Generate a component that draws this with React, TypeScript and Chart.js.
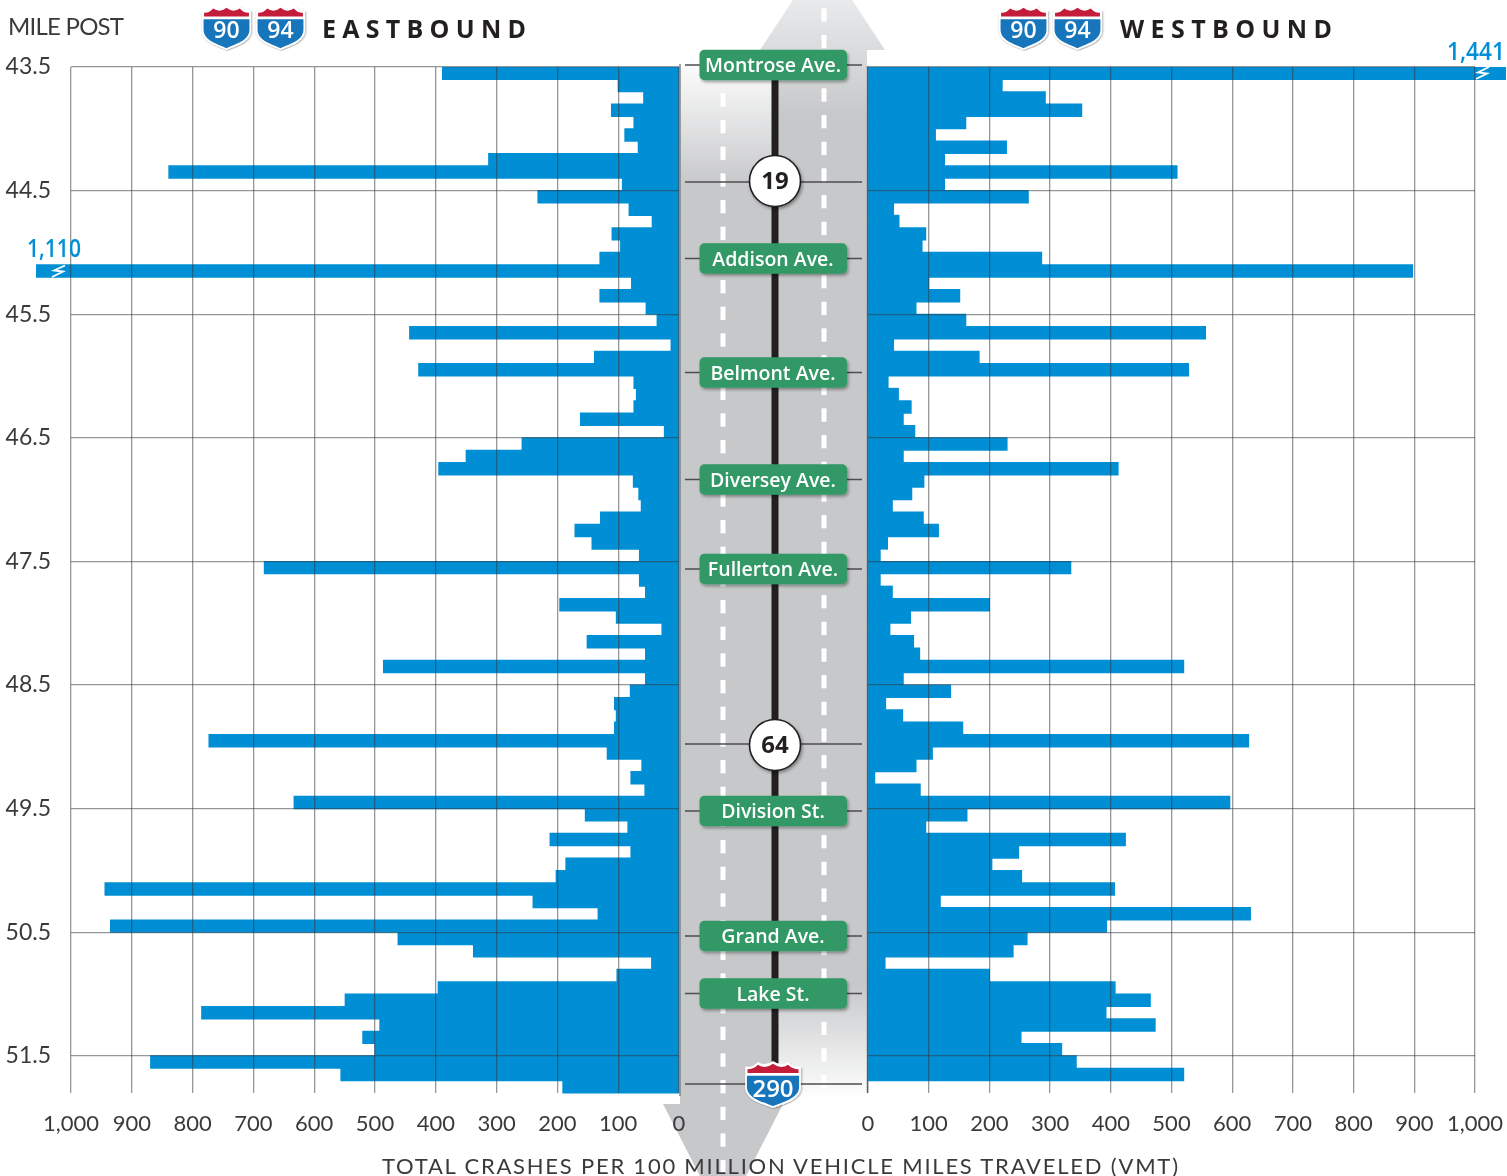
import React, { useEffect, useRef } from "react";
import { Chart, registerables } from "chart.js";

Chart.register(...registerables);

const eastbound = [
  389, 100, 58, 111, 74, 89, 67, 313, 839, 93,
  232, 82, 44, 110, 96, 130, 1110, 78, 130, 54,
  36, 443, 13, 139, 428, 74, 70, 74, 162, 24,
  258, 350, 395, 75, 66, 62, 129, 171, 143, 65,
  682, 65, 55, 196, 103, 28, 151, 55, 486, 55,
  80, 106, 103, 106, 773, 118, 61, 79, 56, 633,
  154, 84, 212, 79, 186, 202, 944, 240, 133, 935,
  462, 338, 45, 102, 396, 549, 785, 492, 520, 500,
  869, 556, 191,
];
const westbound = [
  1441, 221, 292, 352, 161, 111, 228, 126, 509, 126,
  264, 42, 51, 95, 89, 286, 897, 100, 151, 79,
  161, 556, 42, 183, 528, 33, 50, 71, 58, 77,
  229, 58, 412, 92, 72, 40, 91, 116, 32, 20,
  334, 20, 40, 200, 70, 36, 75, 85, 520, 58,
  136, 29, 57, 156, 627, 106, 79, 11, 86, 596,
  163, 95, 424, 248, 204, 253, 406, 119, 630, 393,
  262, 239, 28, 200, 407, 465, 392, 473, 252, 319,
  343, 520,
];
const rowMiles = [
  43.55, 43.65, 43.75, 43.85, 43.95, 44.05, 44.15, 44.25, 44.35, 44.45,
  44.55, 44.65, 44.75, 44.85, 44.95, 45.05, 45.15, 45.25, 45.35, 45.45,
  45.55, 45.65, 45.75, 45.85, 45.95, 46.05, 46.15, 46.25, 46.35, 46.45,
  46.55, 46.65, 46.75, 46.85, 46.95, 47.05, 47.15, 47.25, 47.35, 47.45,
  47.55, 47.65, 47.75, 47.85, 47.95, 48.05, 48.15, 48.25, 48.35, 48.45,
  48.55, 48.65, 48.75, 48.85, 48.95, 49.05, 49.15, 49.25, 49.35, 49.45,
  49.55, 49.65, 49.75, 49.85, 49.95, 50.05, 50.15, 50.25, 50.35, 50.45,
  50.55, 50.65, 50.75, 50.85, 50.95, 51.05, 51.15, 51.25, 51.35, 51.45,
  51.55, 51.65, 51.75,
];
const mileTicks = [43.5, 44.5, 45.5, 46.5, 47.5, 48.5, 49.5, 50.5, 51.5];
const crashTicks = [0, 100, 200, 300, 400, 500, 600, 700, 800, 900, 1000];

const streetSigns = [
  { name: "Montrose Ave.", y: 65 },
  { name: "Addison Ave.", y: 258.5 },
  { name: "Belmont Ave.", y: 372.5 },
  { name: "Diversey Ave.", y: 479.5 },
  { name: "Fullerton Ave.", y: 569 },
  { name: "Division St.", y: 811 },
  { name: "Grand Ave.", y: 936 },
  { name: "Lake St.", y: 993.5 },
];
const routeCircles = [
  { name: "19", y: 181, lineY: 182 },
  { name: "64", y: 745, lineY: 744 },
];

const BLUE = "#008fd5";
const GRID = "rgba(50,55,60,0.52)";
const TEXT = "#3a3a3c";
const FONT = "Lato";
const SIGN_FONT = "'Open Sans'";

function makeChart(canvas: HTMLCanvasElement, side: "east" | "west") {
  const east = side === "east";
  const values = east ? eastbound : westbound;
  return new Chart(canvas, {
    type: "bar",
    data: {
      datasets: [
        {
          data: values.map((v, i) => ({ x: v, y: rowMiles[i] })),
          backgroundColor: BLUE,
          borderWidth: 0,
          barPercentage: 1,
          categoryPercentage: 1,
          inflateAmount: 0.55,
          clip: east
            ? { left: 35, right: 0, top: 0, bottom: 1 }
            : { left: 0, right: 31, top: 0, bottom: 1 },
        } as any,
      ],
    },
    options: {
      indexAxis: "y",
      animation: false,
      responsive: false,
      events: [],
      layout: {
        padding: east
          ? { top: 67, right: 41, left: 0, bottom: 0 }
          : { top: 67, right: 32, left: 0, bottom: 0 },
      },
      plugins: { legend: { display: false }, tooltip: { enabled: false } },
      scales: {
        x: {
          type: "linear",
          reverse: east,
          min: 0,
          max: 1000,
          afterBuildTicks: (s: any) => {
            s.ticks = crashTicks.map((value) => ({ value }));
          },
          afterFit: (s: any) => {
            s.height = 83;
            s.paddingLeft = 0;
            s.paddingRight = 0;
          },
          border: { display: false },
          grid: { color: GRID, lineWidth: 1.3, drawTicks: false, z: 1 },
          ticks: {
            autoSkip: false,
            maxRotation: 0,
            padding: 18,
            color: TEXT,
            font: { family: FONT, size: 22 },
            callback: (v: any) => Number(v).toLocaleString("en-US"),
          },
        },
        y: {
          type: "linear",
          reverse: true,
          offset: false,
          min: 43.5,
          max: 51.8,
          afterBuildTicks: (s: any) => {
            s.ticks = mileTicks.map((value) => ({ value }));
          },
          afterFit: (s: any) => {
            s.width = east ? 71 : 28;
            s.paddingTop = 0;
            s.paddingBottom = 0;
          },
          border: { display: false },
          grid: { offset: false, color: GRID, lineWidth: 1.3, drawTicks: false, z: 1 },
          ticks: {
            display: east,
            padding: 20,
            labelOffset: 0,
            color: TEXT,
            font: { family: FONT, size: 23 },
            callback: (v: any) => Number(v).toFixed(1),
          },
        },
      },
    },
  } as any);
}

function Shield({ x, y, w, h, label, size, textY }: { x: number; y: number; w: number; h: number; label: string; size: number; textY: number }) {
  return (
    <g>
      <g transform={`translate(${x} ${y}) scale(${w / 100} ${h / 100})`} filter="url(#softShadow)">
        <path d="M2 14 Q15 16 24 4 Q37 14 50 2 Q63 14 76 4 Q85 16 98 14 V56 C98 84 66 92 50 100 C34 92 2 84 2 56 Z" fill="#fff" />
        <path d="M6 27 L6 19 Q16 20 24 10 Q37 20 50 8 Q63 20 76 10 Q84 20 94 19 L94 27 Z" fill="#c41e3a" />
        <path d="M5 33 H95 V56 C95 80 65 88 50 96 C35 88 5 80 5 56 Z" fill="#1775bb" />
      </g>
      <text
        x={x + w / 2}
        y={textY}
        textAnchor="middle"
        dominantBaseline="central"
        fontFamily={SIGN_FONT}
        fontWeight={600}
        fontSize={size}
        fill="#fff"
      >
        {label}
      </text>
    </g>
  );
}

export default function App() {
  const eastRef = useRef<HTMLCanvasElement>(null);
  const westRef = useRef<HTMLCanvasElement>(null);

  useEffect(() => {
    const a = makeChart(eastRef.current!, "east");
    const b = makeChart(westRef.current!, "west");
    return () => {
      a.destroy();
      b.destroy();
    };
  }, []);

  const leftDashes: number[] = [];
  for (let y = 93.3; y < 1176; y += 26.67) leftDashes.push(y);
  const rightDashes: number[] = [];
  for (let y = 8.3; y < 1090; y += 26.67) rightDashes.push(y);

  return (
    <div style={{ position: "fixed", left: 0, top: 0, width: 1507, height: 1176, overflow: "hidden", background: "#fff" }}>
      <svg width={1507} height={1176} style={{ position: "absolute", left: 0, top: 0 }}>
        <defs>
          <linearGradient id="roadLeft" gradientUnits="userSpaceOnUse" x1="0" y1="67" x2="0" y2="185">
            <stop offset="0" stopColor="#fbfbfb" />
            <stop offset="1" stopColor="#c7c8ca" />
          </linearGradient>
          <linearGradient id="roadRight" gradientUnits="userSpaceOnUse" x1="0" y1="0" x2="0" y2="1100">
            <stop offset="0" stopColor="#e9eaeb" />
            <stop offset="0.105" stopColor="#c7c8ca" />
            <stop offset="0.895" stopColor="#c7c8ca" />
            <stop offset="1" stopColor="#ffffff" />
          </linearGradient>
          <filter id="softShadow" x="-20%" y="-20%" width="150%" height="150%">
            <feDropShadow dx="1.5" dy="2" stdDeviation="1.6" floodColor="#000" floodOpacity="0.35" />
          </filter>
        </defs>
        <rect x={680} y={66} width={95} height={1038} fill="url(#roadLeft)" />
        <polygon points="663,1104 783,1104 723,1221" fill="#c7c8ca" />
        <rect x={775} y={50} width={92} height={1048} fill="url(#roadRight)" />
        <polygon points="760,50 885,50 822.5,-45" fill="url(#roadRight)" />
        <line x1={680} y1={64} x2={680} y2={1096} stroke="#808285" strokeWidth={1.5} />
        <line x1={867.5} y1={66} x2={867.5} y2={1093} stroke="#808285" strokeWidth={1.5} />
        {leftDashes.map((y) => (
          <rect key={y} x={720.5} y={y} width={5} height={13.3} fill="#fff" />
        ))}
        {rightDashes.map((y) => (
          <rect key={y} x={821.5} y={y} width={5} height={13.3} fill="#fff" />
        ))}
        <rect x={771.5} y={67} width={7} height={1005} fill="#231f20" />
        {streetSigns.map((s) => (
          <line key={s.name} x1={685} x2={862} y1={s.y} y2={s.y} stroke="#4d4d4f" strokeWidth={1.3} />
        ))}
        {routeCircles.map((s) => (
          <line key={s.name} x1={685} x2={862} y1={s.lineY} y2={s.lineY} stroke="#4d4d4f" strokeWidth={1.3} />
        ))}
        <line x1={685} x2={862} y1={1084} y2={1084} stroke="#4d4d4f" strokeWidth={1.3} />
      </svg>

      <canvas ref={eastRef} width={720} height={1176} style={{ position: "absolute", left: 0, top: 0 }} />
      <canvas ref={westRef} width={667} height={1176} style={{ position: "absolute", left: 840, top: 0 }} />

      <svg width={1507} height={1176} style={{ position: "absolute", left: 0, top: 0 }}>
        {streetSigns.map((s) => (
          <g key={s.name}>
            <rect x={699.5} y={s.y - 15.3} width={147.5} height={30.6} rx={5} fill="#339966" filter="url(#softShadow)" />
            <text
              x={773}
              y={s.y - 0.5}
              textAnchor="middle"
              dominantBaseline="central"
              fontFamily={SIGN_FONT}
              fontWeight={600}
              fontSize={19.5}
              fill="#fff"
            >
              {s.name}
            </text>
          </g>
        ))}
        {routeCircles.map((s) => (
          <g key={s.name}>
            <circle cx={775} cy={s.y} r={25.5} fill="#fff" stroke="#231f20" strokeWidth={1.6} filter="url(#softShadow)" />
            <text
              x={775}
              y={s.y - 1.5}
              textAnchor="middle"
              dominantBaseline="central"
              fontFamily={SIGN_FONT}
              fontWeight={700}
              fontSize={24}
              fill="#231f20"
            >
              {s.name}
            </text>
          </g>
        ))}
        <Shield x={744} y={1060} w={58} h={48} label="290" size={24} textY={1087} />
        <Shield x={201} y={4} w={51} h={46} label="90" size={23} textY={29} />
        <Shield x={255} y={4} w={51} h={46} label="94" size={23} textY={29} />
        <Shield x={998} y={4} w={51} h={46} label="90" size={23} textY={29} />
        <Shield x={1052} y={4} w={51} h={46} label="94" size={23} textY={29} />

        <text x={8} y={35} fontFamily={FONT} fontSize={24} fill={TEXT} textLength={116}>
          MILE POST
        </text>
        <text x={322} y={38} fontFamily={SIGN_FONT} fontWeight={700} fontSize={25} fill="#231f20" textLength={204}>
          EASTBOUND
        </text>
        <text x={1120} y={38} fontFamily={SIGN_FONT} fontWeight={700} fontSize={25} fill="#231f20" textLength={212}>
          WESTBOUND
        </text>
        <text x={382} y={1174} fontFamily={FONT} fontSize={22} fill={TEXT} textLength={796}>
          TOTAL CRASHES PER 100 MILLION VEHICLE MILES TRAVELED (VMT)
        </text>
        <text x={27} y={257} fontFamily={SIGN_FONT} fontWeight={600} fontSize={26} fill={BLUE} textLength={54} lengthAdjust="spacingAndGlyphs">
          1,110
        </text>
        <text x={1447} y={60} fontFamily={SIGN_FONT} fontWeight={600} fontSize={26} fill={BLUE} textLength={58} lengthAdjust="spacingAndGlyphs">
          1,441
        </text>
        <polyline points="65,265.5 54,270.5 63,271.5 52,277" fill="none" stroke="#fff" strokeWidth={1.8} />
        <polyline points="1489,67 1478,72.5 1487,73.5 1476,79" fill="none" stroke="#fff" strokeWidth={1.8} />
      </svg>
    </div>
  );
}
